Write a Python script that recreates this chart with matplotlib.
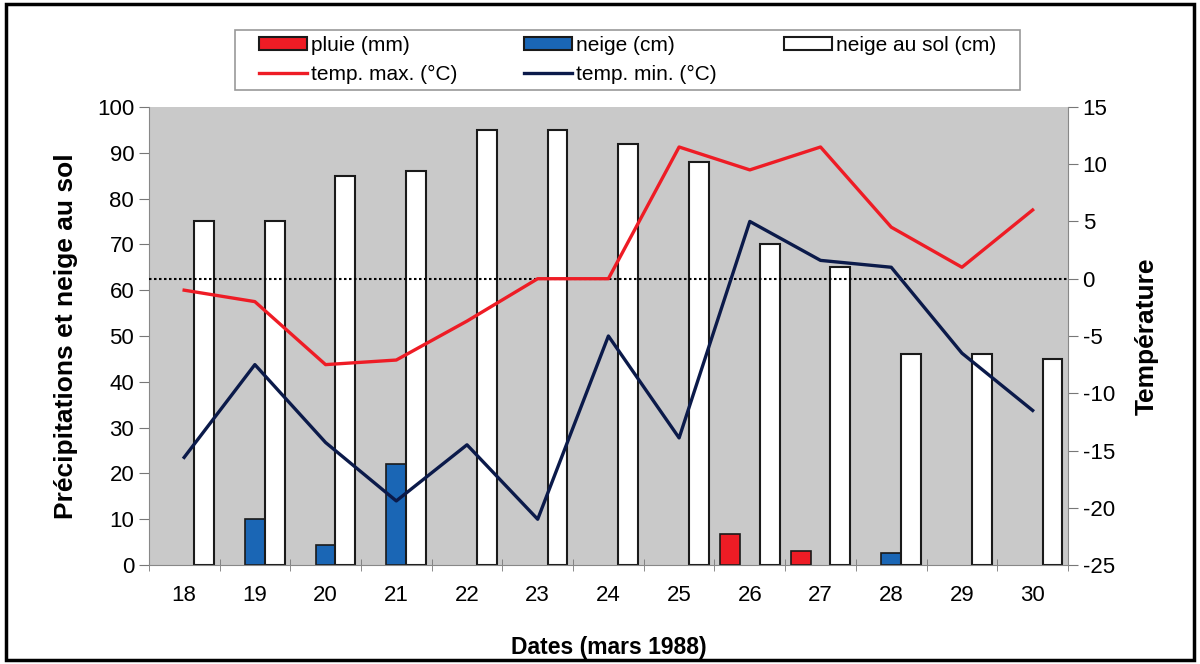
import matplotlib.pyplot as plt
import numpy as np
from matplotlib.patches import Rectangle, Patch

plt.rcParams['font.family'] = ['Liberation Sans', 'DejaVu Sans']
plt.rcParams['axes.unicode_minus'] = False

dates = ['18', '19', '20', '21', '22', '23', '24', '25', '26', '27', '28', '29', '30']
pluie = [0, 0, 0, 0, 0, 0, 0, 0, 6.8, 3.1, 0, 0, 0]
neige = [0, 10, 4.4, 22, 0, 0, 0, 0, 0, 0, 2.6, 0, 0]
neige_sol = [75, 75, 85, 86, 95, 95, 92, 88, 70, 65, 46, 46, 45]
tmax = [-1, -2, -7.5, -7.1, -3.7, 0, 0, 11.5, 9.5, 11.5, 4.5, 1, 6]
tmin = [-15.6, -7.5, -14.3, -19.4, -14.5, -21, -5, -13.9, 5, 1.6, 1, -6.5, -11.5]

red = '#ee1c25'
blue = '#1a66b5'
navy = '#0b1a4a'
edge = '#1a1a1a'

fig = plt.figure(figsize=(12, 6.64), dpi=100)
fig.patches.append(Rectangle((0.005, 0.006), 0.99, 0.988, transform=fig.transFigure,
                             fill=False, edgecolor='black', linewidth=2.5))
ax = fig.add_axes([0.124, 0.149, 0.766, 0.690])
ax.set_facecolor('#c9c9c9')

x = np.arange(len(dates))
w = 0.28
b1 = ax.bar(x - w, pluie, w, color=red, edgecolor=edge, linewidth=1.2)
b2 = ax.bar(x, neige, w, color=blue, edgecolor=edge, linewidth=1.2)
b3 = ax.bar(x + w, neige_sol, w, color='white', edgecolor=edge, linewidth=1.5)
# hide zero-height bars
for bars in (b1, b2):
    for r in bars:
        if r.get_height() == 0:
            r.set_visible(False)

ax.set_xlim(-0.5, len(dates) - 0.5)
ax.set_ylim(0, 100)
ax.set_yticks(range(0, 101, 10))
ax.set_xticks(x)
ax.set_xticklabels(dates)
ax.set_xticks(np.arange(-0.5, len(dates), 1), minor=True)
ax.tick_params(axis='x', which='major', length=0, labelsize=16, pad=14)
ax.tick_params(axis='x', which='minor', length=8, color='#777777', direction='inout')
ax.tick_params(axis='y', length=7, color='#777777', labelsize=16, direction='out')
for s in ['top', 'right']:
    ax.spines[s].set_visible(False)
for s in ['left', 'bottom']:
    ax.spines[s].set_color('#888888')
ax.set_ylabel('Précipitations et neige au sol', fontsize=19, fontweight='bold', labelpad=14)
ax.set_xlabel('Dates (mars 1988)', fontsize=16.5, fontweight='bold', labelpad=22)

ax2 = ax.twinx()
ax2.set_ylim(-25, 15)
ax2.set_yticks(range(-25, 16, 5))
l1, = ax2.plot(x, tmax, color=red, linewidth=2.4)
l2, = ax2.plot(x, tmin, color=navy, linewidth=2.4)
ax2.axhline(0, color='black', linestyle=(0, (1.2, 1.2)), linewidth=1.5, zorder=1)
ax2.tick_params(axis='y', length=7, color='#777777', labelsize=16, direction='out')
for s in ['top', 'left', 'bottom']:
    ax2.spines[s].set_visible(False)
ax2.spines['right'].set_color('#888888')
ax2.set_ylabel('Température', fontsize=19, fontweight='bold', labelpad=14)

# legend (frame drawn separately so the side padding can differ from the top/bottom)
handles = [Patch(facecolor=red, edgecolor=edge, linewidth=1.5), l1,
           Patch(facecolor=blue, edgecolor=edge, linewidth=1.5), l2,
           Patch(facecolor='white', edgecolor=edge, linewidth=1.5)]
labels = ['pluie (mm)', 'temp. max. (°C)', 'neige (cm)', 'temp. min. (°C)',
          'neige au sol (cm)']
fig.patches.append(Rectangle((0.196, 0.8645), 0.654, 0.0904, transform=fig.transFigure,
                             facecolor='white', edgecolor='#999999', linewidth=1.2))
leg = fig.legend(handles, labels, ncol=3, loc='center',
                 bbox_to_anchor=(0.216, 0.8645, 0.614, 0.0904),
                 mode='expand', fontsize=15, frameon=False,
                 handlelength=2.3, handleheight=0.6, handletextpad=0.2,
                 borderpad=0, labelspacing=0.5, borderaxespad=0)

fig.savefig('out.png', dpi=100)
